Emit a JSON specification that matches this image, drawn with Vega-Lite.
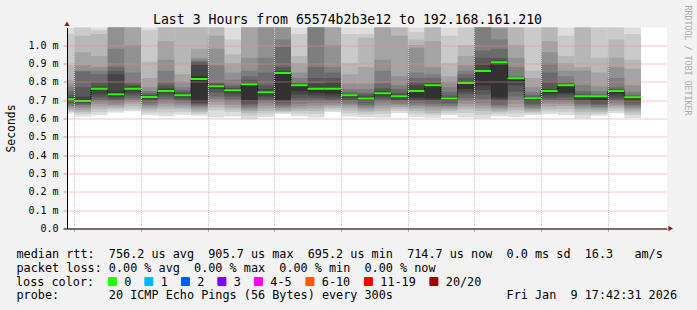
{
"$schema": "https://vega.github.io/schema/vega-lite/v6.json",
"autosize": {"type": "none"},
"width": 600, "height": 201,
"padding": {"left": 67, "top": 27.5, "right": 30, "bottom": 81.5},
"background": "#f2f2f2",
"config": {"view": {"fill": "white", "stroke": null}, "font": "DejaVu Sans Mono"},
"title": {"text": "Last 3 Hours from 65574b2b3e12 to 192.168.161.210", "font": "DejaVu Sans Mono", "fontSize": 13.2, "fontWeight": "normal", "color": "#000000", "anchor": "middle", "frame": "group", "dx": -19.5, "offset": -31.7, "baseline": "alphabetic"},
"datasets": {
"smoke": [
{"t":880,"t2":885,"b":1,"lo":0.627,"hi":1.15},{"t":880,"t2":885,"b":2,"lo":0.635,"hi":1.06},{"t":880,"t2":885,"b":3,"lo":0.642,"hi":0.89},{"t":880,"t2":885,"b":4,"lo":0.65,"hi":0.81},{"t":880,"t2":885,"b":5,"lo":0.66,"hi":0.79},{"t":880,"t2":885,"b":6,"lo":0.668,"hi":0.77},{"t":880,"t2":885,"b":7,"lo":0.677,"hi":0.75},{"t":880,"t2":885,"b":8,"lo":0.685,"hi":0.73},{"t":880,"t2":885,"b":9,"lo":0.693,"hi":0.715},{"t":880,"t2":885,"b":10,"lo":0.70,"hi":0.708},
{"t":885,"t2":890,"b":1,"lo":0.611,"hi":1.3},{"t":885,"t2":890,"b":2,"lo":0.625,"hi":1.15},{"t":885,"t2":890,"b":3,"lo":0.635,"hi":1.05},{"t":885,"t2":890,"b":4,"lo":0.645,"hi":0.96},{"t":885,"t2":890,"b":5,"lo":0.655,"hi":0.89},{"t":885,"t2":890,"b":6,"lo":0.665,"hi":0.86},{"t":885,"t2":890,"b":7,"lo":0.673,"hi":0.855},{"t":885,"t2":890,"b":8,"lo":0.68,"hi":0.77},{"t":885,"t2":890,"b":9,"lo":0.685,"hi":0.72},{"t":885,"t2":890,"b":10,"lo":0.69,"hi":0.70},
{"t":890,"t2":895,"b":1,"lo":0.617,"hi":1.15},{"t":890,"t2":895,"b":2,"lo":0.635,"hi":1.08},{"t":890,"t2":895,"b":3,"lo":0.65,"hi":1.06},{"t":890,"t2":895,"b":4,"lo":0.665,"hi":0.94},{"t":890,"t2":895,"b":5,"lo":0.68,"hi":0.88},{"t":890,"t2":895,"b":6,"lo":0.69,"hi":0.86},{"t":890,"t2":895,"b":7,"lo":0.70,"hi":0.84},{"t":890,"t2":895,"b":8,"lo":0.715,"hi":0.80},{"t":890,"t2":895,"b":9,"lo":0.73,"hi":0.775},{"t":890,"t2":895,"b":10,"lo":0.755,"hi":0.765},
{"t":895,"t2":900,"b":1,"lo":0.632,"hi":1.5},{"t":895,"t2":900,"b":2,"lo":0.645,"hi":1.4},{"t":895,"t2":900,"b":3,"lo":0.655,"hi":1.3},{"t":895,"t2":900,"b":4,"lo":0.665,"hi":1.2},{"t":895,"t2":900,"b":5,"lo":0.675,"hi":1.15},{"t":895,"t2":900,"b":6,"lo":0.685,"hi":0.98},{"t":895,"t2":900,"b":7,"lo":0.695,"hi":0.88},{"t":895,"t2":900,"b":8,"lo":0.705,"hi":0.86},{"t":895,"t2":900,"b":9,"lo":0.715,"hi":0.84},{"t":895,"t2":900,"b":10,"lo":0.725,"hi":0.745},
{"t":900,"t2":905,"b":1,"lo":0.639,"hi":1.5},{"t":900,"t2":905,"b":2,"lo":0.65,"hi":1.4},{"t":900,"t2":905,"b":3,"lo":0.665,"hi":1.3},{"t":900,"t2":905,"b":4,"lo":0.68,"hi":1.2},{"t":900,"t2":905,"b":5,"lo":0.69,"hi":1.0},{"t":900,"t2":905,"b":6,"lo":0.70,"hi":0.85},{"t":900,"t2":905,"b":7,"lo":0.71,"hi":0.80},{"t":900,"t2":905,"b":8,"lo":0.725,"hi":0.785},{"t":900,"t2":905,"b":9,"lo":0.74,"hi":0.775},{"t":900,"t2":905,"b":10,"lo":0.755,"hi":0.765},
{"t":905,"t2":910,"b":1,"lo":0.617,"hi":1.15},{"t":905,"t2":910,"b":2,"lo":0.632,"hi":1.08},{"t":905,"t2":910,"b":3,"lo":0.645,"hi":0.91},{"t":905,"t2":910,"b":4,"lo":0.655,"hi":0.82},{"t":905,"t2":910,"b":5,"lo":0.665,"hi":0.77},{"t":905,"t2":910,"b":6,"lo":0.675,"hi":0.75},{"t":905,"t2":910,"b":7,"lo":0.685,"hi":0.74},{"t":905,"t2":910,"b":8,"lo":0.695,"hi":0.73},{"t":905,"t2":910,"b":9,"lo":0.705,"hi":0.725},{"t":905,"t2":910,"b":10,"lo":0.712,"hi":0.72},
{"t":910,"t2":915,"b":1,"lo":0.612,"hi":1.2},{"t":910,"t2":915,"b":2,"lo":0.632,"hi":1.12},{"t":910,"t2":915,"b":3,"lo":0.65,"hi":1.1},{"t":910,"t2":915,"b":4,"lo":0.665,"hi":1.02},{"t":910,"t2":915,"b":5,"lo":0.68,"hi":0.92},{"t":910,"t2":915,"b":6,"lo":0.69,"hi":0.86},{"t":910,"t2":915,"b":7,"lo":0.705,"hi":0.80},{"t":910,"t2":915,"b":8,"lo":0.72,"hi":0.78},{"t":910,"t2":915,"b":9,"lo":0.735,"hi":0.765},{"t":910,"t2":915,"b":10,"lo":0.745,"hi":0.755},
{"t":915,"t2":920,"b":1,"lo":0.62,"hi":1.2},{"t":915,"t2":920,"b":2,"lo":0.635,"hi":1.15},{"t":915,"t2":920,"b":3,"lo":0.65,"hi":1.1},{"t":915,"t2":920,"b":4,"lo":0.66,"hi":0.84},{"t":915,"t2":920,"b":5,"lo":0.672,"hi":0.80},{"t":915,"t2":920,"b":6,"lo":0.682,"hi":0.77},{"t":915,"t2":920,"b":7,"lo":0.692,"hi":0.755},{"t":915,"t2":920,"b":8,"lo":0.702,"hi":0.745},{"t":915,"t2":920,"b":9,"lo":0.712,"hi":0.735},{"t":915,"t2":920,"b":10,"lo":0.72,"hi":0.73},
{"t":920,"t2":925,"b":1,"lo":0.615,"hi":1.2},{"t":920,"t2":925,"b":2,"lo":0.625,"hi":1.15},{"t":920,"t2":925,"b":3,"lo":0.635,"hi":1.1},{"t":920,"t2":925,"b":4,"lo":0.645,"hi":0.98},{"t":920,"t2":925,"b":5,"lo":0.655,"hi":0.93},{"t":920,"t2":925,"b":6,"lo":0.665,"hi":0.92},{"t":920,"t2":925,"b":7,"lo":0.672,"hi":0.91},{"t":920,"t2":925,"b":8,"lo":0.68,"hi":0.905},{"t":920,"t2":925,"b":9,"lo":0.685,"hi":0.90},{"t":920,"t2":925,"b":10,"lo":0.69,"hi":0.83},
{"t":925,"t2":930,"b":1,"lo":0.605,"hi":1.5},{"t":925,"t2":930,"b":2,"lo":0.645,"hi":1.4},{"t":925,"t2":930,"b":3,"lo":0.66,"hi":1.3},{"t":925,"t2":930,"b":4,"lo":0.675,"hi":1.05},{"t":925,"t2":930,"b":5,"lo":0.69,"hi":0.98},{"t":925,"t2":930,"b":6,"lo":0.705,"hi":0.89},{"t":925,"t2":930,"b":7,"lo":0.72,"hi":0.80},{"t":925,"t2":930,"b":8,"lo":0.74,"hi":0.79},{"t":925,"t2":930,"b":9,"lo":0.76,"hi":0.785},{"t":925,"t2":930,"b":10,"lo":0.77,"hi":0.78},
{"t":930,"t2":935,"b":1,"lo":0.612,"hi":1.12},{"t":930,"t2":935,"b":2,"lo":0.635,"hi":1.03},{"t":930,"t2":935,"b":3,"lo":0.648,"hi":0.95},{"t":930,"t2":935,"b":4,"lo":0.66,"hi":0.90},{"t":930,"t2":935,"b":5,"lo":0.675,"hi":0.85},{"t":930,"t2":935,"b":6,"lo":0.69,"hi":0.81},{"t":930,"t2":935,"b":7,"lo":0.705,"hi":0.78},{"t":930,"t2":935,"b":8,"lo":0.72,"hi":0.77},{"t":930,"t2":935,"b":9,"lo":0.735,"hi":0.765},{"t":930,"t2":935,"b":10,"lo":0.745,"hi":0.758},
{"t":935,"t2":940,"b":1,"lo":0.595,"hi":1.5},{"t":935,"t2":940,"b":2,"lo":0.615,"hi":1.4},{"t":935,"t2":940,"b":3,"lo":0.63,"hi":1.3},{"t":935,"t2":940,"b":4,"lo":0.64,"hi":1.2},{"t":935,"t2":940,"b":5,"lo":0.65,"hi":0.93},{"t":935,"t2":940,"b":6,"lo":0.66,"hi":0.86},{"t":935,"t2":940,"b":7,"lo":0.67,"hi":0.83},{"t":935,"t2":940,"b":8,"lo":0.68,"hi":0.81},{"t":935,"t2":940,"b":9,"lo":0.69,"hi":0.80},{"t":935,"t2":940,"b":10,"lo":0.70,"hi":0.79},
{"t":940,"t2":945,"b":1,"lo":0.608,"hi":1.5},{"t":940,"t2":945,"b":2,"lo":0.625,"hi":1.4},{"t":940,"t2":945,"b":3,"lo":0.64,"hi":1.3},{"t":940,"t2":945,"b":4,"lo":0.655,"hi":1.2},{"t":940,"t2":945,"b":5,"lo":0.67,"hi":1.15},{"t":940,"t2":945,"b":6,"lo":0.685,"hi":0.93},{"t":940,"t2":945,"b":7,"lo":0.695,"hi":0.85},{"t":940,"t2":945,"b":8,"lo":0.705,"hi":0.78},{"t":940,"t2":945,"b":9,"lo":0.72,"hi":0.76},{"t":940,"t2":945,"b":10,"lo":0.735,"hi":0.75},
{"t":945,"t2":950,"b":1,"lo":0.625,"hi":1.5},{"t":945,"t2":950,"b":2,"lo":0.632,"hi":1.4},{"t":945,"t2":950,"b":3,"lo":0.638,"hi":1.3},{"t":945,"t2":950,"b":4,"lo":0.645,"hi":1.2},{"t":945,"t2":950,"b":5,"lo":0.655,"hi":1.15},{"t":945,"t2":950,"b":6,"lo":0.665,"hi":1.03},{"t":945,"t2":950,"b":7,"lo":0.675,"hi":0.99},{"t":945,"t2":950,"b":8,"lo":0.685,"hi":0.88},{"t":945,"t2":950,"b":9,"lo":0.695,"hi":0.86},{"t":945,"t2":950,"b":10,"lo":0.70,"hi":0.85},
{"t":950,"t2":955,"b":1,"lo":0.612,"hi":1.15},{"t":950,"t2":955,"b":2,"lo":0.628,"hi":1.06},{"t":950,"t2":955,"b":3,"lo":0.64,"hi":0.94},{"t":950,"t2":955,"b":4,"lo":0.652,"hi":0.90},{"t":950,"t2":955,"b":5,"lo":0.665,"hi":0.85},{"t":950,"t2":955,"b":6,"lo":0.68,"hi":0.82},{"t":950,"t2":955,"b":7,"lo":0.695,"hi":0.80},{"t":950,"t2":955,"b":8,"lo":0.71,"hi":0.79},{"t":950,"t2":955,"b":9,"lo":0.73,"hi":0.785},{"t":950,"t2":955,"b":10,"lo":0.75,"hi":0.783},
{"t":955,"t2":960,"b":1,"lo":0.605,"hi":1.5},{"t":955,"t2":960,"b":2,"lo":0.625,"hi":1.4},{"t":955,"t2":960,"b":3,"lo":0.64,"hi":1.3},{"t":955,"t2":960,"b":4,"lo":0.655,"hi":1.2},{"t":955,"t2":960,"b":5,"lo":0.67,"hi":1.15},{"t":955,"t2":960,"b":6,"lo":0.685,"hi":1.12},{"t":955,"t2":960,"b":7,"lo":0.695,"hi":0.88},{"t":955,"t2":960,"b":8,"lo":0.71,"hi":0.82},{"t":955,"t2":960,"b":9,"lo":0.725,"hi":0.79},{"t":955,"t2":960,"b":10,"lo":0.74,"hi":0.765},
{"t":960,"t2":965,"b":1,"lo":0.635,"hi":1.5},{"t":960,"t2":965,"b":2,"lo":0.645,"hi":1.4},{"t":960,"t2":965,"b":3,"lo":0.655,"hi":1.3},{"t":960,"t2":965,"b":4,"lo":0.665,"hi":1.2},{"t":960,"t2":965,"b":5,"lo":0.675,"hi":1.0},{"t":960,"t2":965,"b":6,"lo":0.685,"hi":0.88},{"t":960,"t2":965,"b":7,"lo":0.695,"hi":0.85},{"t":960,"t2":965,"b":8,"lo":0.705,"hi":0.82},{"t":960,"t2":965,"b":9,"lo":0.72,"hi":0.80},{"t":960,"t2":965,"b":10,"lo":0.735,"hi":0.765},
{"t":965,"t2":970,"b":1,"lo":0.61,"hi":1.12},{"t":965,"t2":970,"b":2,"lo":0.63,"hi":1.06},{"t":965,"t2":970,"b":3,"lo":0.645,"hi":0.90},{"t":965,"t2":970,"b":4,"lo":0.658,"hi":0.84},{"t":965,"t2":970,"b":5,"lo":0.67,"hi":0.79},{"t":965,"t2":970,"b":6,"lo":0.68,"hi":0.76},{"t":965,"t2":970,"b":7,"lo":0.69,"hi":0.745},{"t":965,"t2":970,"b":8,"lo":0.70,"hi":0.735},{"t":965,"t2":970,"b":9,"lo":0.712,"hi":0.73},{"t":965,"t2":970,"b":10,"lo":0.72,"hi":0.728},
{"t":970,"t2":975,"b":1,"lo":0.607,"hi":1.12},{"t":970,"t2":975,"b":2,"lo":0.622,"hi":1.06},{"t":970,"t2":975,"b":3,"lo":0.635,"hi":1.04},{"t":970,"t2":975,"b":4,"lo":0.645,"hi":0.88},{"t":970,"t2":975,"b":5,"lo":0.655,"hi":0.79},{"t":970,"t2":975,"b":6,"lo":0.665,"hi":0.76},{"t":970,"t2":975,"b":7,"lo":0.675,"hi":0.74},{"t":970,"t2":975,"b":8,"lo":0.685,"hi":0.73},{"t":970,"t2":975,"b":9,"lo":0.695,"hi":0.72},{"t":970,"t2":975,"b":10,"lo":0.705,"hi":0.714},
{"t":975,"t2":980,"b":1,"lo":0.605,"hi":1.5},{"t":975,"t2":980,"b":2,"lo":0.625,"hi":1.4},{"t":975,"t2":980,"b":3,"lo":0.64,"hi":1.3},{"t":975,"t2":980,"b":4,"lo":0.655,"hi":1.1},{"t":975,"t2":980,"b":5,"lo":0.67,"hi":0.92},{"t":975,"t2":980,"b":6,"lo":0.685,"hi":0.86},{"t":975,"t2":980,"b":7,"lo":0.695,"hi":0.79},{"t":975,"t2":980,"b":8,"lo":0.707,"hi":0.765},{"t":975,"t2":980,"b":9,"lo":0.72,"hi":0.75},{"t":975,"t2":980,"b":10,"lo":0.73,"hi":0.74},
{"t":980,"t2":985,"b":1,"lo":0.63,"hi":1.5},{"t":980,"t2":985,"b":2,"lo":0.642,"hi":1.4},{"t":980,"t2":985,"b":3,"lo":0.652,"hi":1.3},{"t":980,"t2":985,"b":4,"lo":0.662,"hi":1.05},{"t":980,"t2":985,"b":5,"lo":0.672,"hi":0.83},{"t":980,"t2":985,"b":6,"lo":0.68,"hi":0.78},{"t":980,"t2":985,"b":7,"lo":0.69,"hi":0.76},{"t":980,"t2":985,"b":8,"lo":0.697,"hi":0.74},{"t":980,"t2":985,"b":9,"lo":0.705,"hi":0.73},{"t":980,"t2":985,"b":10,"lo":0.715,"hi":0.724},
{"t":985,"t2":990,"b":1,"lo":0.607,"hi":1.12},{"t":985,"t2":990,"b":2,"lo":0.625,"hi":1.07},{"t":985,"t2":990,"b":3,"lo":0.64,"hi":1.03},{"t":985,"t2":990,"b":4,"lo":0.652,"hi":1.0},{"t":985,"t2":990,"b":5,"lo":0.665,"hi":0.985},{"t":985,"t2":990,"b":6,"lo":0.675,"hi":0.85},{"t":985,"t2":990,"b":7,"lo":0.685,"hi":0.82},{"t":985,"t2":990,"b":8,"lo":0.695,"hi":0.80},{"t":985,"t2":990,"b":9,"lo":0.705,"hi":0.78},{"t":985,"t2":990,"b":10,"lo":0.715,"hi":0.755},
{"t":990,"t2":995,"b":1,"lo":0.604,"hi":1.5},{"t":990,"t2":995,"b":2,"lo":0.62,"hi":1.4},{"t":990,"t2":995,"b":3,"lo":0.63,"hi":1.3},{"t":990,"t2":995,"b":4,"lo":0.645,"hi":1.02},{"t":990,"t2":995,"b":5,"lo":0.66,"hi":0.88},{"t":990,"t2":995,"b":6,"lo":0.67,"hi":0.84},{"t":990,"t2":995,"b":7,"lo":0.68,"hi":0.82},{"t":990,"t2":995,"b":8,"lo":0.69,"hi":0.80},{"t":990,"t2":995,"b":9,"lo":0.70,"hi":0.79},{"t":990,"t2":995,"b":10,"lo":0.71,"hi":0.784},
{"t":995,"t2":1000,"b":1,"lo":0.617,"hi":1.12},{"t":995,"t2":1000,"b":2,"lo":0.63,"hi":1.05},{"t":995,"t2":1000,"b":3,"lo":0.64,"hi":0.90},{"t":995,"t2":1000,"b":4,"lo":0.65,"hi":0.83},{"t":995,"t2":1000,"b":5,"lo":0.66,"hi":0.80},{"t":995,"t2":1000,"b":6,"lo":0.668,"hi":0.77},{"t":995,"t2":1000,"b":7,"lo":0.677,"hi":0.745},{"t":995,"t2":1000,"b":8,"lo":0.685,"hi":0.725},{"t":995,"t2":1000,"b":9,"lo":0.693,"hi":0.715},{"t":995,"t2":1000,"b":10,"lo":0.70,"hi":0.71},
{"t":1000,"t2":1005,"b":1,"lo":0.605,"hi":1.15},{"t":1000,"t2":1005,"b":2,"lo":0.63,"hi":1.1},{"t":1000,"t2":1005,"b":3,"lo":0.65,"hi":1.0},{"t":1000,"t2":1005,"b":4,"lo":0.665,"hi":0.94},{"t":1000,"t2":1005,"b":5,"lo":0.68,"hi":0.89},{"t":1000,"t2":1005,"b":6,"lo":0.695,"hi":0.86},{"t":1000,"t2":1005,"b":7,"lo":0.71,"hi":0.84},{"t":1000,"t2":1005,"b":8,"lo":0.73,"hi":0.82},{"t":1000,"t2":1005,"b":9,"lo":0.745,"hi":0.80},{"t":1000,"t2":1005,"b":10,"lo":0.76,"hi":0.796},
{"t":1005,"t2":1010,"b":1,"lo":0.60,"hi":1.5},{"t":1005,"t2":1010,"b":2,"lo":0.62,"hi":1.4},{"t":1005,"t2":1010,"b":3,"lo":0.64,"hi":1.3},{"t":1005,"t2":1010,"b":4,"lo":0.655,"hi":1.2},{"t":1005,"t2":1010,"b":5,"lo":0.67,"hi":1.15},{"t":1005,"t2":1010,"b":6,"lo":0.685,"hi":1.12},{"t":1005,"t2":1010,"b":7,"lo":0.705,"hi":0.97},{"t":1005,"t2":1010,"b":8,"lo":0.73,"hi":0.93},{"t":1005,"t2":1010,"b":9,"lo":0.755,"hi":0.90},{"t":1005,"t2":1010,"b":10,"lo":0.78,"hi":0.862},
{"t":1010,"t2":1015,"b":1,"lo":0.612,"hi":1.5},{"t":1010,"t2":1015,"b":2,"lo":0.625,"hi":1.4},{"t":1010,"t2":1015,"b":3,"lo":0.635,"hi":1.3},{"t":1010,"t2":1015,"b":4,"lo":0.645,"hi":1.2},{"t":1010,"t2":1015,"b":5,"lo":0.655,"hi":1.09},{"t":1010,"t2":1015,"b":6,"lo":0.665,"hi":1.03},{"t":1010,"t2":1015,"b":7,"lo":0.675,"hi":0.98},{"t":1010,"t2":1015,"b":8,"lo":0.69,"hi":0.93},{"t":1010,"t2":1015,"b":9,"lo":0.705,"hi":0.915},{"t":1010,"t2":1015,"b":10,"lo":0.715,"hi":0.91},
{"t":1015,"t2":1020,"b":1,"lo":0.607,"hi":1.5},{"t":1015,"t2":1020,"b":2,"lo":0.627,"hi":1.4},{"t":1015,"t2":1020,"b":3,"lo":0.645,"hi":1.3},{"t":1015,"t2":1020,"b":4,"lo":0.66,"hi":1.0},{"t":1015,"t2":1020,"b":5,"lo":0.68,"hi":0.93},{"t":1015,"t2":1020,"b":6,"lo":0.70,"hi":0.88},{"t":1015,"t2":1020,"b":7,"lo":0.72,"hi":0.83},{"t":1015,"t2":1020,"b":8,"lo":0.745,"hi":0.825},{"t":1015,"t2":1020,"b":9,"lo":0.78,"hi":0.822},{"t":1015,"t2":1020,"b":10,"lo":0.80,"hi":0.82},
{"t":1020,"t2":1025,"b":1,"lo":0.617,"hi":1.2},{"t":1020,"t2":1025,"b":2,"lo":0.627,"hi":1.15},{"t":1020,"t2":1025,"b":3,"lo":0.635,"hi":0.86},{"t":1020,"t2":1025,"b":4,"lo":0.643,"hi":0.82},{"t":1020,"t2":1025,"b":5,"lo":0.652,"hi":0.77},{"t":1020,"t2":1025,"b":6,"lo":0.66,"hi":0.745},{"t":1020,"t2":1025,"b":7,"lo":0.67,"hi":0.73},{"t":1020,"t2":1025,"b":8,"lo":0.68,"hi":0.72},{"t":1020,"t2":1025,"b":9,"lo":0.69,"hi":0.715},{"t":1020,"t2":1025,"b":10,"lo":0.70,"hi":0.712},
{"t":1025,"t2":1030,"b":1,"lo":0.623,"hi":1.5},{"t":1025,"t2":1030,"b":2,"lo":0.637,"hi":1.4},{"t":1025,"t2":1030,"b":3,"lo":0.65,"hi":1.3},{"t":1025,"t2":1030,"b":4,"lo":0.665,"hi":1.02},{"t":1025,"t2":1030,"b":5,"lo":0.68,"hi":0.96},{"t":1025,"t2":1030,"b":6,"lo":0.69,"hi":0.90},{"t":1025,"t2":1030,"b":7,"lo":0.70,"hi":0.85},{"t":1025,"t2":1030,"b":8,"lo":0.71,"hi":0.80},{"t":1025,"t2":1030,"b":9,"lo":0.725,"hi":0.76},{"t":1025,"t2":1030,"b":10,"lo":0.74,"hi":0.753},
{"t":1030,"t2":1035,"b":1,"lo":0.617,"hi":1.12},{"t":1030,"t2":1035,"b":2,"lo":0.635,"hi":1.05},{"t":1030,"t2":1035,"b":3,"lo":0.652,"hi":0.94},{"t":1030,"t2":1035,"b":4,"lo":0.667,"hi":0.90},{"t":1030,"t2":1035,"b":5,"lo":0.68,"hi":0.86},{"t":1030,"t2":1035,"b":6,"lo":0.69,"hi":0.83},{"t":1030,"t2":1035,"b":7,"lo":0.70,"hi":0.80},{"t":1030,"t2":1035,"b":8,"lo":0.715,"hi":0.79},{"t":1030,"t2":1035,"b":9,"lo":0.73,"hi":0.785},{"t":1030,"t2":1035,"b":10,"lo":0.74,"hi":0.783},
{"t":1035,"t2":1040,"b":1,"lo":0.60,"hi":1.5},{"t":1035,"t2":1040,"b":2,"lo":0.62,"hi":1.4},{"t":1035,"t2":1040,"b":3,"lo":0.635,"hi":1.3},{"t":1035,"t2":1040,"b":4,"lo":0.648,"hi":0.88},{"t":1035,"t2":1040,"b":5,"lo":0.66,"hi":0.86},{"t":1035,"t2":1040,"b":6,"lo":0.67,"hi":0.78},{"t":1035,"t2":1040,"b":7,"lo":0.68,"hi":0.75},{"t":1035,"t2":1040,"b":8,"lo":0.69,"hi":0.735},{"t":1035,"t2":1040,"b":9,"lo":0.70,"hi":0.727},{"t":1035,"t2":1040,"b":10,"lo":0.71,"hi":0.722},
{"t":1040,"t2":1045,"b":1,"lo":0.615,"hi":1.2},{"t":1040,"t2":1045,"b":2,"lo":0.625,"hi":1.14},{"t":1040,"t2":1045,"b":3,"lo":0.635,"hi":0.93},{"t":1040,"t2":1045,"b":4,"lo":0.645,"hi":0.85},{"t":1040,"t2":1045,"b":5,"lo":0.655,"hi":0.775},{"t":1040,"t2":1045,"b":6,"lo":0.664,"hi":0.75},{"t":1040,"t2":1045,"b":7,"lo":0.672,"hi":0.735},{"t":1040,"t2":1045,"b":8,"lo":0.68,"hi":0.727},{"t":1040,"t2":1045,"b":9,"lo":0.69,"hi":0.723},{"t":1040,"t2":1045,"b":10,"lo":0.70,"hi":0.721},
{"t":1045,"t2":1050,"b":1,"lo":0.628,"hi":1.2},{"t":1045,"t2":1050,"b":2,"lo":0.64,"hi":1.12},{"t":1045,"t2":1050,"b":3,"lo":0.653,"hi":1.03},{"t":1045,"t2":1050,"b":4,"lo":0.665,"hi":0.93},{"t":1045,"t2":1050,"b":5,"lo":0.675,"hi":0.88},{"t":1045,"t2":1050,"b":6,"lo":0.685,"hi":0.82},{"t":1045,"t2":1050,"b":7,"lo":0.695,"hi":0.77},{"t":1045,"t2":1050,"b":8,"lo":0.705,"hi":0.76},{"t":1045,"t2":1050,"b":9,"lo":0.72,"hi":0.755},{"t":1045,"t2":1050,"b":10,"lo":0.735,"hi":0.752},
{"t":1050,"t2":1055,"b":1,"lo":0.602,"hi":1.12},{"t":1050,"t2":1055,"b":2,"lo":0.618,"hi":1.06},{"t":1050,"t2":1055,"b":3,"lo":0.632,"hi":0.92},{"t":1050,"t2":1055,"b":4,"lo":0.645,"hi":0.87},{"t":1050,"t2":1055,"b":5,"lo":0.655,"hi":0.78},{"t":1050,"t2":1055,"b":6,"lo":0.665,"hi":0.745},{"t":1050,"t2":1055,"b":7,"lo":0.675,"hi":0.73},{"t":1050,"t2":1055,"b":8,"lo":0.685,"hi":0.722},{"t":1050,"t2":1055,"b":9,"lo":0.695,"hi":0.718},{"t":1050,"t2":1055,"b":10,"lo":0.705,"hi":0.716}
],
"median": [
{"t":880,"t2":885,"m":0.705,"loss":"0"},{"t":885,"t2":890,"m":0.695,"loss":"0"},{"t":890,"t2":895,"m":0.761,"loss":"0"},{"t":895,"t2":900,"m":0.732,"loss":"0"},{"t":900,"t2":905,"m":0.761,"loss":"0"},{"t":905,"t2":910,"m":0.717,"loss":"0"},{"t":910,"t2":915,"m":0.750,"loss":"0"},{"t":915,"t2":920,"m":0.726,"loss":"0"},{"t":920,"t2":925,"m":0.815,"loss":"0"},{"t":925,"t2":930,"m":0.775,"loss":"0"},{"t":930,"t2":935,"m":0.754,"loss":"0"},{"t":935,"t2":940,"m":0.786,"loss":"0"},{"t":940,"t2":945,"m":0.743,"loss":"0"},{"t":945,"t2":950,"m":0.848,"loss":"0"},{"t":950,"t2":955,"m":0.781,"loss":"0"},{"t":955,"t2":960,"m":0.761,"loss":"0"},{"t":960,"t2":965,"m":0.761,"loss":"0"},{"t":965,"t2":970,"m":0.726,"loss":"0"},{"t":970,"t2":975,"m":0.708,"loss":"0"},{"t":975,"t2":980,"m":0.737,"loss":"0"},{"t":980,"t2":985,"m":0.721,"loss":"0"},{"t":985,"t2":990,"m":0.750,"loss":"0"},{"t":990,"t2":995,"m":0.781,"loss":"0"},{"t":995,"t2":1000,"m":0.708,"loss":"0"},{"t":1000,"t2":1005,"m":0.793,"loss":"0"},{"t":1005,"t2":1010,"m":0.859,"loss":"0"},{"t":1010,"t2":1015,"m":0.906,"loss":"0"},{"t":1015,"t2":1020,"m":0.819,"loss":"0"},{"t":1020,"t2":1025,"m":0.710,"loss":"0"},{"t":1025,"t2":1030,"m":0.750,"loss":"0"},{"t":1030,"t2":1035,"m":0.781,"loss":"0"},{"t":1035,"t2":1040,"m":0.721,"loss":"0"},{"t":1040,"t2":1045,"m":0.721,"loss":"0"},{"t":1045,"t2":1050,"m":0.750,"loss":"0"},{"t":1050,"t2":1055,"m":0.715,"loss":"0"}
],
"arrows": [
{"t":882.8,"v":1.116,"s":"triangle-up"},{"t":1063.9,"v":0,"s":"triangle-right"}
]
},
"layer": [
{
"data": {"name": "smoke"},
"mark": {"type": "rect", "clip": true},
"encoding": {
"x": {"field": "t", "type": "quantitative", "scale": {"domain": [882.8, 1062.8], "nice": false, "zero": false},
 "axis": {"values": [885,890,895,900,905,910,915,920,925,930,935,940,945,950,955,960,965,970,975,980,985,990,995,1000,1005,1010,1015,1020,1025,1030,1035,1040,1045,1050,1055,1060],
 "labelExpr": "datum.value % 20 == 0 ? (floor(datum.value / 60) + ':' + (datum.value % 60 < 10 ? '0' : '') + (datum.value % 60)) : ''",
 "grid": true, "gridColor": {"condition": {"test": "datum.value % 20 == 0", "value": "#ff8080"}, "value": "#c8c8c8"}, "gridDash": [1, 1], "gridWidth": 1,
 "ticks": true, "tickSize": 3, "tickColor": {"condition": {"test": "datum.value % 20 == 0", "value": "#ff6060"}, "value": "#b0b0b0"},
 "domain": true, "domainColor": "#000000", "domainWidth": 1,
 "labelFont": "DejaVu Sans Mono", "labelFontSize": 10, "labelColor": "#000000", "labelPadding": 2, "labelOverlap": false, "labelFlush": false, "labelBound": false,
 "title": ["median\u00a0rtt:\u00a0\u00a0756.2\u00a0us\u00a0avg\u00a0\u00a0905.7\u00a0us\u00a0max\u00a0\u00a0695.2\u00a0us\u00a0min\u00a0\u00a0714.7\u00a0us\u00a0now\u00a0\u00a00.0\u00a0ms\u00a0sd\u00a0\u00a016.3\u00a0\u00a0\u00a0am/s", "packet\u00a0loss:\u00a00.00\u00a0%\u00a0avg\u00a0\u00a00.00\u00a0%\u00a0max\u00a0\u00a00.00\u00a0%\u00a0min\u00a0\u00a00.00\u00a0%\u00a0now", "\u200b", "probe:\u00a0\u00a0\u00a0\u00a0\u00a0\u00a0\u00a020\u00a0ICMP\u00a0Echo\u00a0Pings\u00a0(56\u00a0Bytes)\u00a0every\u00a0300s\u00a0\u00a0\u00a0\u00a0\u00a0\u00a0\u00a0\u00a0\u00a0\u00a0\u00a0\u00a0\u00a0\u00a0\u00a0\u00a0Fri\u00a0Jan\u00a0\u00a09\u00a017:42:31\u00a02026"],
 "titleFont": "DejaVu Sans Mono", "titleFontSize": 11.8, "titleFontWeight": "normal", "titleColor": "#000000", "titleAlign": "left", "titleAnchor": "start", "titleX": -51, "titleY": 29, "titleBaseline": "alphabetic", "titleLineHeight": 13.83, "titleLimit": 2000,
 "zindex": 1}},
"x2": {"field": "t2"},
"y": {"field": "lo", "type": "quantitative", "scale": {"domain": [0, 1.0954], "nice": false, "zero": true},
 "axis": {"values": [0, 0.1, 0.2, 0.3, 0.4, 0.5, 0.6, 0.7, 0.8, 0.9, 1.0],
 "labelExpr": "datum.value == 0 ? '0.0' : format(datum.value, '.1f') + ' m'",
 "grid": true, "gridColor": "#ff8080", "gridDash": [1, 1], "gridWidth": 1,
 "tickSize": 4, "tickColor": {"condition": {"test": "datum.value == 0", "value": "#000000"}, "value": "#ff8080"},
 "domainColor": "#000000", "domainWidth": 1,
 "labelFont": "DejaVu Sans Mono", "labelFontSize": 10, "labelColor": "#000000", "labelPadding": 5,
 "title": "Seconds", "titleFont": "DejaVu Sans Mono", "titleFontSize": 11.4, "titleFontWeight": "normal", "titleColor": "#000000", "titleX": -56, "titleBaseline": "middle",
 "zindex": 1}},
"y2": {"field": "hi"},
"fill": {"field": "b", "type": "ordinal", "scale": {"domain": [1,2,3,4,5,6,7,8,9,10], "range": ["#dddddd","#cacaca","#b7b7b7","#a4a4a4","#919191","#7e7e7e","#6b6b6b","#585858","#454545","#323232"]}, "legend": null},
"order": {"field": "b", "type": "quantitative"}
}
},
{
"data": {"name": "median"},
"transform": [{"window": [{"op": "lag", "field": "m", "as": "mp"}], "sort": [{"field": "t", "order": "ascending"}]}, {"filter": "isValid(datum.mp)"}],
"mark": {"type": "rule", "color": "#000000", "strokeDash": [1, 1], "strokeWidth": 1},
"encoding": {
"x": {"field": "t", "type": "quantitative"},
"y": {"field": "mp", "type": "quantitative", "axis": null},
"y2": {"field": "m"}
}
},
{
"data": {"name": "median"},
"mark": {"type": "rule", "strokeWidth": 2, "clip": true},
"encoding": {
"x": {"field": "t", "type": "quantitative"},
"x2": {"field": "t2"},
"y": {"field": "m", "type": "quantitative", "axis": null},
"color": {"field": "loss", "type": "nominal",
 "scale": {"domain": ["0","1","2","3","4-5","6-10","11-19","20/20"], "range": ["#26ff00","#00b8ff","#0059ff","#7e00ff","#ff00ff","#ff5500","#ff0000","#a10000"]},
 "legend": {"title": "loss color:", "orient": "none", "legendX": -51, "legendY": 248, "direction": "horizontal", "columns": 8, "titleOrient": "left",
 "titleFont": "DejaVu Sans Mono", "titleFontSize": 11.8, "titleFontWeight": "normal", "titleColor": "#000000", "titlePadding": 11.5, "titleBaseline": "middle",
 "labelFont": "DejaVu Sans Mono", "labelFontSize": 11.8, "labelColor": "#000000", "labelOffset": 6, "columnPadding": 10.5,
 "symbolType": "square", "symbolSize": 64, "symbolStrokeColor": "#000000", "symbolStrokeWidth": 1, "symbolOpacity": 1, "padding": 0,
 "encode": {"symbols": {"update": {"fill": {"scale": "color", "field": "value"}, "stroke": {"value": "#000000"}, "fillOpacity": {"value": 1}}}}}}
}
},
{
"data": {"name": "arrows"},
"mark": {"type": "point", "filled": true, "opacity": 1, "color": "#8b1a1a", "size": 28},
"encoding": {
"x": {"field": "t", "type": "quantitative"},
"y": {"field": "v", "type": "quantitative", "axis": {"orient": "right", "title": "RRDTOOL / TOBI OETIKER", "domain": false, "ticks": false, "labels": false, "grid": false, "titleAngle": 90, "titleX": 19, "titleY": -22.5, "titleAlign": "left", "titleBaseline": "middle", "titleFont": "DejaVu Sans Mono", "titleFontSize": 8.3, "titleFontWeight": "normal", "titleColor": "#aaaaaa"}},
"shape": {"field": "s", "type": "nominal", "scale": null}
}
}
],
"resolve": {"axis": {"y": "independent"}}
}
